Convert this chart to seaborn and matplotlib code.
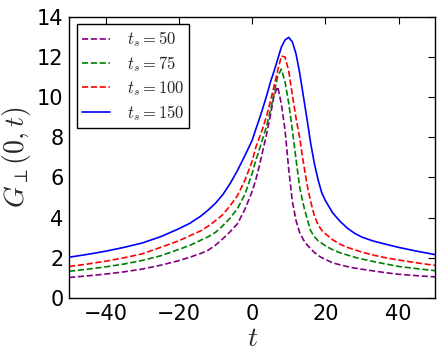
import matplotlib
matplotlib.use("Agg")
import matplotlib.pyplot as plt
import seaborn as sns
import pandas as pd

# ---- data ----
t_grid = [-50, -45, -40, -35, -30, -25, -20, -17, -14, -12, -10, -8, -6, -4, -2, 0, 1, 2, 3, 4, 5, 6, 7,
          8, 9, 10, 11, 12, 13, 14, 15, 16, 17, 18, 19, 20, 22, 24, 26, 28, 30, 33, 36, 40, 45, 50]

g_50 = [1.02, 1.10, 1.19, 1.30, 1.44, 1.63, 1.86, 2.03, 2.22, 2.38, 2.63, 2.95, 3.30, 3.70, 4.40, 5.30, 5.88, 6.60, 7.40,
        8.20, 9.10, 10.10, 10.52, 9.65, 8.35, 6.40, 4.80, 3.85, 3.25, 2.90, 2.65, 2.45, 2.27, 2.12, 2.01, 1.92, 1.75, 1.65,
        1.56, 1.49, 1.43, 1.35, 1.27, 1.18, 1.11, 1.05]

g_75 = [1.33, 1.43, 1.55, 1.69, 1.87, 2.10, 2.42, 2.62, 2.88, 3.05, 3.27, 3.60, 3.98, 4.45, 5.15, 6.20, 6.85, 7.40, 8.00,
        8.60, 9.35, 10.20, 11.05, 11.40, 10.75, 9.70, 8.35, 6.90, 5.50, 4.65, 3.95, 3.35, 3.05, 2.85, 2.73, 2.60, 2.40, 2.25,
        2.14, 2.03, 1.94, 1.82, 1.71, 1.57, 1.46, 1.36]

g_100 = [1.57, 1.69, 1.83, 2.00, 2.20, 2.52, 2.85, 3.10, 3.35, 3.58, 3.85, 4.15, 4.60, 5.10, 5.85, 6.80, 7.50, 8.00, 8.50,
         9.10, 9.80, 10.55, 11.35, 12.05, 12.00, 11.30, 10.10, 8.95, 7.97, 6.75, 5.65, 4.80, 4.10, 3.65, 3.38, 3.20, 2.90,
         2.68, 2.52, 2.40, 2.28, 2.14, 2.02, 1.89, 1.75, 1.62]

g_150 = [2.03, 2.17, 2.33, 2.52, 2.74, 3.05, 3.45, 3.72, 4.08, 4.38, 4.72, 5.15, 5.70, 6.35, 7.08, 7.85, 8.40, 8.93, 9.50,
         10.10, 10.75, 11.30, 11.90, 12.50, 12.85, 12.98, 12.75, 12.15, 11.20, 10.05, 8.90, 7.70, 6.70, 5.90, 5.25, 4.85,
         4.24, 3.82, 3.48, 3.22, 3.03, 2.84, 2.70, 2.52, 2.33, 2.16]

labels = [r"$t_s=50$", r"$t_s=75$", r"$t_s=100$", r"$t_s=150$"]
colors = ["purple", "green", "red", "blue"]
styles = ["--", "--", "--", "-"]

xticks = [-40, -20, 0, 20, 40]
yticks = [0, 2, 4, 6, 8, 10, 12, 14]

sns.set_style("white")
plt.rcParams["font.family"] = ["DejaVu Sans"]
plt.rcParams["mathtext.fontset"] = "cm"
plt.rcParams["xtick.direction"] = "in"
plt.rcParams["ytick.direction"] = "in"

fig = plt.figure(figsize=(4.4, 3.59), dpi=100)
ax = fig.add_axes([0.157, 0.17, 0.832, 0.783])

for gg, lab, c, ls in zip([g_50, g_75, g_100, g_150], labels, colors, styles):
    df = pd.DataFrame({"t": t_grid, "G": gg})
    sns.lineplot(data=df, x="t", y="G", ax=ax, color=c, linestyle=ls,
                 linewidth=1.2, label=lab, estimator=None, sort=True)

ax.set_xlim(-50, 50)
ax.set_ylim(0, 14)
ax.set_xticks(xticks)
ax.set_yticks(yticks)
ax.set_xticklabels([f"\u2212{abs(v)}" if v < 0 else str(v) for v in xticks])
ax.tick_params(axis="both", which="major", labelsize=15, length=5, width=0.8,
               direction="in", top=True, right=True, colors="black", pad=4)
for sp in ax.spines.values():
    sp.set_color("black")
    sp.set_linewidth(1.0)

ax.set_xlabel(r"$t$", fontsize=20, labelpad=0)
ax.set_ylabel(r"$G_\perp(0,t)$", fontsize=20, labelpad=3)

leg = ax.legend(loc="upper left", fontsize=12, frameon=True, fancybox=False,
                edgecolor="black", framealpha=1, handlelength=1.7,
                borderaxespad=0.45, labelspacing=0.3, handletextpad=1.0,
                borderpad=0.3)
leg.get_frame().set_linewidth(1.0)

fig.savefig("out.png", dpi=100)
